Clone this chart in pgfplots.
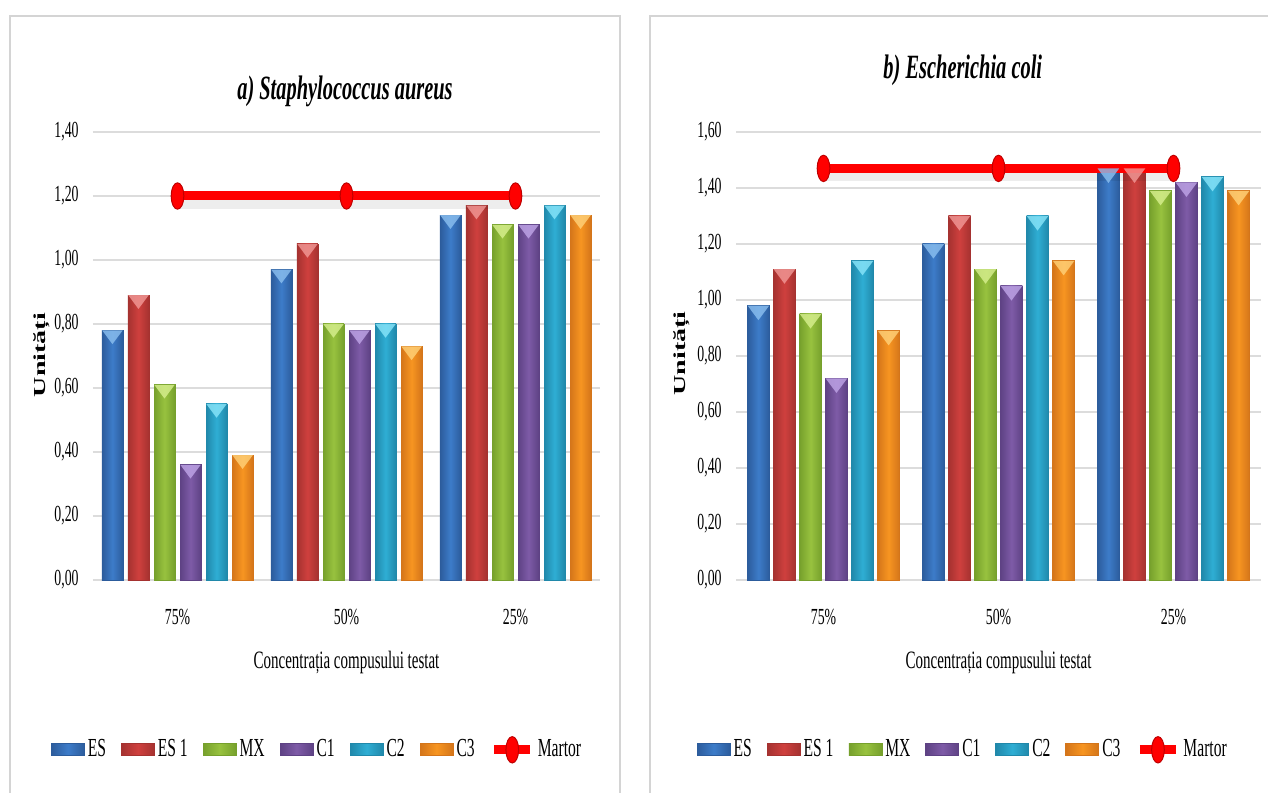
\documentclass[border=0pt]{standalone}
\usepackage{fontspec}
\setmainfont[FakeStretch=0.6]{Liberation Serif}
\newfontfamily\uprightserif{Liberation Serif}
\usepackage{graphicx}
\usepackage{pgfplots}
\usepackage{pgfplotstable}
\pgfplotsset{compat=1.18}

% bar colours: edge (D), body (M), top facet (L)
\definecolor{esD}{HTML}{2C5C9C}\definecolor{esM}{HTML}{3D7CC9}\definecolor{esL}{HTML}{8CC0F0}
\definecolor{es1D}{HTML}{A53230}\definecolor{es1M}{HTML}{CF403E}\definecolor{es1L}{HTML}{F29A98}
\definecolor{mxD}{HTML}{76A02C}\definecolor{mxM}{HTML}{98C23F}\definecolor{mxL}{HTML}{D8F090}
\definecolor{c1D}{HTML}{5E4284}\definecolor{c1M}{HTML}{7E5BA7}\definecolor{c1L}{HTML}{C0A6E8}
\definecolor{c2D}{HTML}{2088AA}\definecolor{c2M}{HTML}{2FAED4}\definecolor{c2L}{HTML}{8AE6FA}
\definecolor{c3D}{HTML}{D4751A}\definecolor{c3M}{HTML}{F79521}\definecolor{c3L}{HTML}{FFD27A}
\definecolor{gridgray}{HTML}{DCDCDC}
\definecolor{framegray}{HTML}{D4D4D4}

% Staphylococcus aureus
\pgfplotstableread{
x ES ES1 MX C1 C2 C3 Martor
0 0.78 0.89 0.61 0.36 0.55 0.39 1.20
1 0.97 1.05 0.80 0.78 0.80 0.73 1.20
2 1.14 1.17 1.11 1.11 1.17 1.14 1.20
}\staph

% Escherichia coli
\pgfplotstableread{
x ES ES1 MX C1 C2 C3 Martor
0 0.98 1.11 0.95 0.72 1.14 0.89 1.47
1 1.20 1.30 1.11 1.05 1.30 1.14 1.47
2 1.47 1.47 1.39 1.42 1.44 1.39 1.47
}\ecoli

% bevelled top of a bar
\pgfdeclareplotmark{bevel}{%
  \pgfpathmoveto{\pgfqpoint{-\pgfplotmarksize}{0pt}}%
  \pgfpathlineto{\pgfqpoint{\pgfplotmarksize}{0pt}}%
  \pgfpathlineto{\pgfqpoint{0pt}{-1.35\pgfplotmarksize}}%
  \pgfpathclose\pgfusepath{fill}}

\pgfplotsset{
  shadedbar/.style={ybar, bar shift=0pt, draw=#1D, line width=0.4pt,
     left color=#1D, right color=#1D, middle color=#1M,
     mark=bevel, mark options={fill=#1L, draw=none, opacity=0.8}},
  panel/.style={
    scale only axis, anchor=south west, height=224pt,
    xmin=-0.5, xmax=2.5, ymin=0,
    xtick={0,1,2}, xticklabels={75\%,50\%,25\%},
    axis line style={draw=none}, major tick length=0pt,
    ymajorgrids, grid style={draw=gridgray, line width=1.1pt},
    /pgf/number format/.cd, fixed, fixed zerofill, precision=2, use comma, assume math mode=true,
    /pgfplots/.cd,
    tick label style={font=\fontsize{11.5}{13}\selectfont},
    yticklabel style={inner sep=0pt, xshift=-7pt},
    xticklabel style={anchor=center, yshift=-18.5pt},
    xlabel={Concentrația compusului testat},
    xlabel style={at={(axis description cs:0.5,0)}, anchor=center, yshift=-41pt,
      font=\fontsize{12.5}{14}\selectfont},
    ylabel={\scalebox{1}[0.6]{\uprightserif\bfseries\fontsize{14}{16}\selectfont Unități}},
    title style={anchor=center, font=\bfseries\itshape\fontsize{17}{19}\selectfont},
    legend columns=7,
    legend style={draw=none, fill=none, anchor=center, font=\fontsize{13}{14}\selectfont,
      nodes={inner sep=1pt},
      /tikz/every even column/.append style={column sep=6.5pt},
      /tikz/every odd column/.append style={column sep=0.5pt}},
    legend image code/.code={\draw[##1, line width=0.4pt] (0pt,-3pt) rectangle (16.5pt,3pt);},
  },
  martor/.style={draw=red, line width=4.5pt, mark=*, mark size=6.6pt,
     mark options={fill=red, draw=red!75!black, line width=0.5pt, xscale=0.48},
     legend image code/.code={\draw[##1, mark repeat=2, mark phase=2]
        plot coordinates {(0pt,0pt) (9pt,0pt) (18pt,0pt)};}},
  martorshadow/.style={forget plot, draw=black, opacity=0.07, line width=5pt, yshift=-4pt},
}

% one series: a separate path per bar, so that each bar carries its own shading
\newcommand\barseries[5]{% table, column, colour, offset within group, facet half-width
  \addplot[shadedbar=#3, mark size=#5,
    restrict expr to domain={\coordindex}{0:0}] table[x expr=\thisrow{x}+#4,y=#2]{#1};
  \addplot[shadedbar=#3, mark size=#5, forget plot,
    restrict expr to domain={\coordindex}{1:1}] table[x expr=\thisrow{x}+#4,y=#2]{#1};
  \addplot[shadedbar=#3, mark size=#5, forget plot,
    restrict expr to domain={\coordindex}{2:2}] table[x expr=\thisrow{x}+#4,y=#2]{#1};
}

\begin{document}
\begin{tikzpicture}
\path[use as bounding box] (0,0) rectangle (634pt,396pt);
\clip (0,0) rectangle (634pt,396pt);
\fill[white] (0,0) rectangle (634pt,396pt);
\draw[framegray, line width=1pt] (5pt,-20pt) rectangle (310pt,388pt);
\draw[framegray, line width=1pt] (325pt,-20pt) rectangle (700pt,388pt);

% a) Staphylococcus aureus
\begin{axis}[panel, at={(46.5pt,106pt)}, width=253.5pt, ymax=1.4,
  ytick={0,0.2,...,1.41}, bar width=0.124,
  every axis y label/.style={at={(rel axis cs:-0.1006,0.502)}, rotate=90, anchor=center},
  title={a) Staphylococcus aureus},
  title style={at={(axis description cs:0.497,1.063)}},
  legend style={at={(axis description cs:0.442,-0.379)}}]
\barseries{\staph}{ES}{es}{-0.385}{5.1pt}
\barseries{\staph}{ES1}{es1}{-0.231}{5.1pt}
\barseries{\staph}{MX}{mx}{-0.077}{5.1pt}
\barseries{\staph}{C1}{c1}{0.077}{5.1pt}
\barseries{\staph}{C2}{c2}{0.231}{5.1pt}
\barseries{\staph}{C3}{c3}{0.385}{5.1pt}
\addplot[martorshadow] table[x=x,y=Martor] {\staph};
\addplot[martor] table[x=x,y=Martor] {\staph};
\legend{ES, ES 1, MX, C1, C2, C3, Martor}
\end{axis}

% b) Escherichia coli
\begin{axis}[panel, at={(368pt,106pt)}, width=262.5pt, ymax=1.6,
  ytick={0,0.2,...,1.61}, bar width=0.126,
  every axis y label/.style={at={(rel axis cs:-0.103,0.506)}, rotate=90, anchor=center},
  title={b) Escherichia coli},
  title style={at={(axis description cs:0.432,1.111)}},
  legend style={at={(axis description cs:0.432,-0.379)}}]
\barseries{\ecoli}{ES}{es}{-0.372}{5.4pt}
\barseries{\ecoli}{ES1}{es1}{-0.223}{5.4pt}
\barseries{\ecoli}{MX}{mx}{-0.074}{5.4pt}
\barseries{\ecoli}{C1}{c1}{0.074}{5.4pt}
\barseries{\ecoli}{C2}{c2}{0.223}{5.4pt}
\barseries{\ecoli}{C3}{c3}{0.372}{5.4pt}
\addplot[martorshadow] table[x=x,y=Martor] {\ecoli};
\addplot[martor] table[x=x,y=Martor] {\ecoli};
\legend{ES, ES 1, MX, C1, C2, C3, Martor}
\end{axis}
\end{tikzpicture}
\end{document}
